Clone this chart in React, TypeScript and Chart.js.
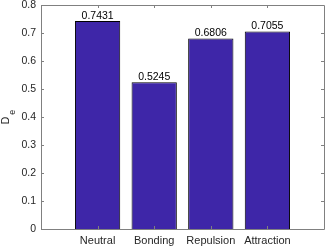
import React, { useEffect, useRef } from "react";
import { Chart, registerables } from "chart.js";

Chart.register(...registerables);

const categories = ["Neutral", "Bonding", "Repulsion", "Attraction"];
const deValues = [0.7431, 0.5245, 0.6806, 0.7055];
const valueLabels = ["0.7431", "0.5245", "0.6806", "0.7055"];
const yTicks = [0, 0.1, 0.2, 0.3, 0.4, 0.5, 0.6, 0.7, 0.8];

const FONT = "'Liberation Sans', Arial, Helvetica, sans-serif";
const TEXT = "#262626";
const AXIS = "#808080";

export default function App() {
  const ref = useRef<HTMLCanvasElement | null>(null);

  useEffect(() => {
    document.body.style.margin = "0";
    const canvas = ref.current;
    if (!canvas) return;

    const labels = ["", ...categories, ""];
    const data = [null, ...deValues, null];

    const boxPlugin = {
      id: "matlabBox",
      afterDatasetsDraw(chart: any) {
        const { ctx, chartArea } = chart;
        const { left, right, top, bottom } = chartArea;
        const xs = chart.scales.x;
        const ys = chart.scales.y;
        ctx.save();
        ctx.strokeStyle = AXIS;
        ctx.lineWidth = 1;
        ctx.beginPath();
        ctx.rect(Math.round(left) + 0.5, Math.round(top) + 0.5, Math.round(right - left), Math.round(bottom - top));
        ctx.stroke();
        const tl = 3;
        ctx.beginPath();
        for (let i = 1; i <= categories.length; i++) {
          const x = Math.round(xs.getPixelForValue(i)) + 0.5;
          ctx.moveTo(x, bottom);
          ctx.lineTo(x, bottom - tl);
          ctx.moveTo(x, top);
          ctx.lineTo(x, top + tl);
        }
        for (const v of yTicks) {
          const y = Math.round(ys.getPixelForValue(v)) + 0.5;
          ctx.moveTo(left, y);
          ctx.lineTo(left + tl, y);
          ctx.moveTo(right, y);
          ctx.lineTo(right - tl, y);
        }
        ctx.stroke();

        // value labels
        const meta = chart.getDatasetMeta(0);
        ctx.fillStyle = "#000";
        ctx.font = `10.5px ${FONT}`;
        ctx.textAlign = "center";
        ctx.textBaseline = "alphabetic";
        for (let i = 0; i < categories.length; i++) {
          const el = meta.data[i + 1];
          ctx.fillText(valueLabels[i], el.x, el.y - 2);
        }

        // y axis label D_e
        ctx.fillStyle = TEXT;
        ctx.translate(8.5, (top + bottom) / 2);
        ctx.rotate(-Math.PI / 2);
        ctx.textAlign = "left";
        ctx.font = `10.5px ${FONT}`;
        const wD = ctx.measureText("D").width;
        ctx.font = `9px ${FONT}`;
        const wE = ctx.measureText("e").width;
        const total = wD + 2 + wE;
        ctx.font = `10.5px ${FONT}`;
        ctx.fillText("D", -total / 2, 0);
        ctx.font = `9px ${FONT}`;
        ctx.fillText("e", -total / 2 + wD + 2, 6.5);
        ctx.restore();
      },
    };

    const chart = new Chart(canvas, {
      type: "bar",
      data: {
        labels,
        datasets: [
          {
            data,
            backgroundColor: "#3e26a8",
            borderColor: "#000000",
            borderWidth: 1,
            categoryPercentage: 1,
            barPercentage: 0.8,
          },
        ],
      },
      options: {
        animation: false,
        responsive: false,
        events: [],
        layout: { padding: { top: 5, right: 3, left: 0, bottom: 0 } },
        plugins: {
          legend: { display: false },
          tooltip: { enabled: false },
        },
        scales: {
          x: {
            offset: false,
            grid: { display: false, drawTicks: false },
            border: { display: false },
            ticks: {
              autoSkip: false,
              maxRotation: 0,
              minRotation: 0,
              padding: 5,
              color: TEXT,
              font: { family: FONT, size: 11 },
            },
            afterFit(scale: any) {
              scale.height = 20;
              scale.paddingLeft = 0;
              scale.paddingRight = 0;
            },
          },
          y: {
            min: 0,
            max: 0.8,
            grid: { display: false, drawTicks: false },
            border: { display: false },
            afterBuildTicks(scale: any) {
              scale.ticks = yTicks.map((v) => ({ value: v }));
            },
            ticks: {
              padding: 5,
              color: TEXT,
              font: { family: FONT, size: 10.5 },
              callback: (v: any) => String(Math.round(Number(v) * 10) / 10),
            },
            afterFit(scale: any) {
              scale.width = 41;
              scale.paddingTop = 0;
              scale.paddingBottom = 0;
            },
          },
        },
      },
      plugins: [boxPlugin],
    });

    return () => chart.destroy();
  }, []);

  return (
    <div style={{ width: 327, height: 249, background: "#fff" }}>
      <canvas ref={ref} width={327} height={249} style={{ display: "block" }} />
    </div>
  );
}
